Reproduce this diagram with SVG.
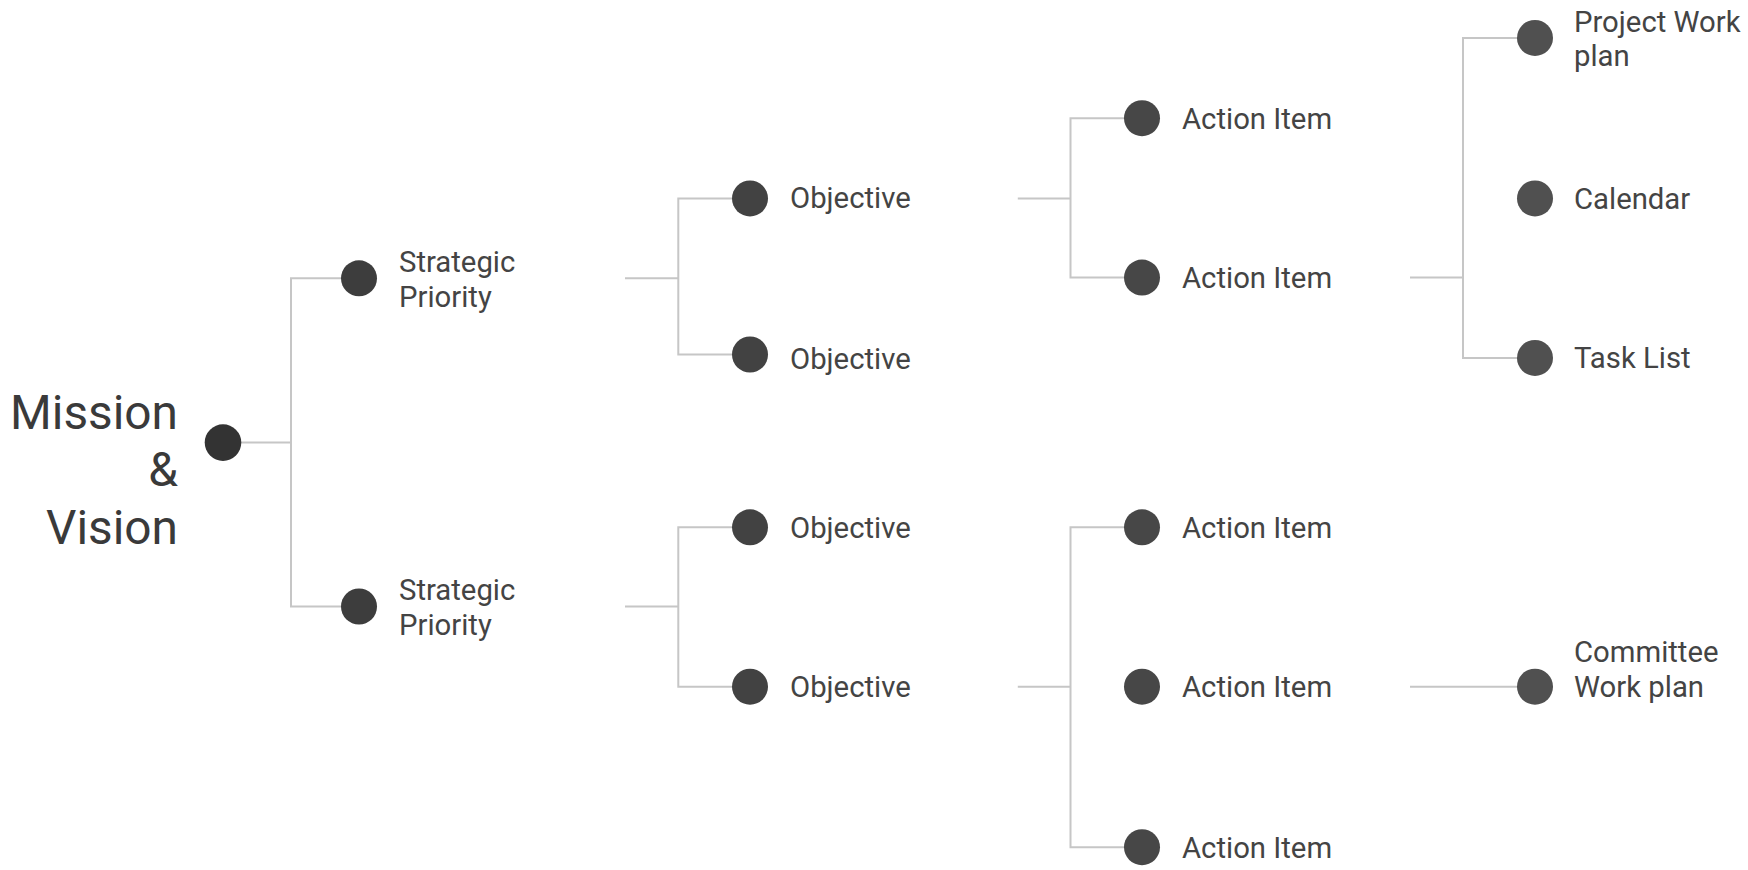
<svg xmlns="http://www.w3.org/2000/svg" width="1748" height="870" viewBox="0 0 1748 870">
<style>
.c{fill:none;stroke:#c6c6c6;stroke-width:2}
.t{font-family:Roboto,"Liberation Sans",sans-serif;font-size:29.3px;fill:#444}
.big{font-family:Roboto,"Liberation Sans",sans-serif;font-size:47.8px;fill:#3a3a3a;text-anchor:end}
.n0{fill:#333}
.n1{fill:#3d3d3d}
.n2{fill:#424242}
.n3{fill:#474747}
.n4{fill:#505050}
</style>
<rect width="1748" height="870" fill="#fff"/>
<g id="connectors">
<path class="c" d="M223 442.6H291"/>
<path class="c" d="M359 278.3H291V606.5H359"/>
<path class="c" d="M625 278.3H678.3"/>
<path class="c" d="M750 198.4H678.3V354.5H750"/>
<path class="c" d="M625 606.5H678.3"/>
<path class="c" d="M750 527.3H678.3V686.7H750"/>
<path class="c" d="M1017.8 198.4H1070.5"/>
<path class="c" d="M1142 118.2H1070.5V277.6H1142"/>
<path class="c" d="M1017.8 686.7H1070.5"/>
<path class="c" d="M1142 527.3H1070.5V847.2H1142"/>
<path class="c" d="M1410 277.6H1463"/>
<path class="c" d="M1535 37.9H1463V357.9H1535"/>
<path class="c" d="M1410 686.7H1535"/>
</g>
<g id="root">
<circle class="n0" cx="223" cy="442.6" r="18.3"/>
<text class="big" x="178"><tspan x="178" y="428.5">Mission</tspan><tspan x="178" y="485.5">&amp;</tspan><tspan x="178" y="543.5">Vision</tspan></text>
</g>
<g id="sp1">
<circle class="n1" cx="359" cy="278.3" r="18"/>
<text class="t"><tspan x="399" y="271.7">Strategic</tspan><tspan x="399" y="306.5">Priority</tspan></text>
</g>
<g id="sp2">
<circle class="n1" cx="359" cy="606.5" r="18"/>
<text class="t"><tspan x="399" y="599.9">Strategic</tspan><tspan x="399" y="634.7">Priority</tspan></text>
</g>
<g id="obj1"><circle class="n2" cx="750" cy="198.4" r="18"/><text class="t" x="790" y="208.4">Objective</text></g>
<g id="obj2"><circle class="n2" cx="750" cy="354.5" r="18"/><text class="t" x="790" y="368.5">Objective</text></g>
<g id="obj3"><circle class="n2" cx="750" cy="527.3" r="18"/><text class="t" x="790" y="537.8">Objective</text></g>
<g id="obj4"><circle class="n2" cx="750" cy="686.7" r="18"/><text class="t" x="790" y="697.2">Objective</text></g>
<g id="ai1"><circle class="n3" cx="1142" cy="118.2" r="18"/><text class="t" x="1182" y="128.7">Action Item</text></g>
<g id="ai2"><circle class="n3" cx="1142" cy="277.6" r="18"/><text class="t" x="1182" y="288.1">Action Item</text></g>
<g id="ai3"><circle class="n3" cx="1142" cy="527.3" r="18"/><text class="t" x="1182" y="537.8">Action Item</text></g>
<g id="ai4"><circle class="n3" cx="1142" cy="686.7" r="18"/><text class="t" x="1182" y="697.2">Action Item</text></g>
<g id="ai5"><circle class="n3" cx="1142" cy="847.2" r="18"/><text class="t" x="1182" y="857.7">Action Item</text></g>
<g id="projectplan"><circle class="n4" cx="1535" cy="37.9" r="18"/><text class="t"><tspan x="1574" y="31.5">Project Work</tspan><tspan x="1574" y="66">plan</tspan></text></g>
<g id="calendar"><circle class="n4" cx="1535" cy="198.4" r="18"/><text class="t" x="1574" y="208.9">Calendar</text></g>
<g id="tasklist"><circle class="n4" cx="1535" cy="357.9" r="18"/><text class="t" x="1574" y="368.4">Task List</text></g>
<g id="committee"><circle class="n4" cx="1535" cy="686.7" r="18"/><text class="t"><tspan x="1574" y="661.7">Committee</tspan><tspan x="1574" y="697">Work plan</tspan></text></g>
</svg>
